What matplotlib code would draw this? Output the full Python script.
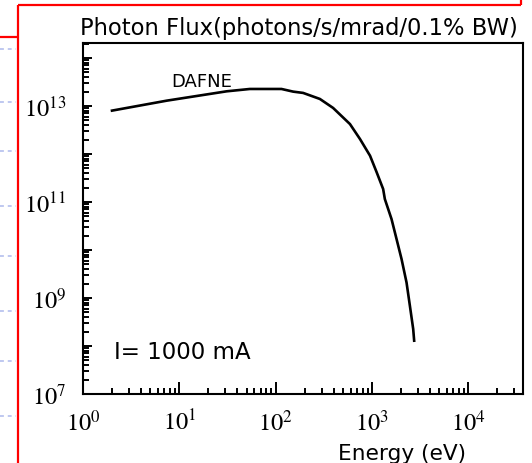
import math
import matplotlib
matplotlib.use("Agg")
import matplotlib.pyplot as plt
from matplotlib.ticker import LogLocator, FuncFormatter, NullFormatter
from matplotlib.lines import Line2D

# Data
energy_eV = [2.0, 7.4, 31, 54, 115, 152, 193, 288, 395, 591, 751, 955, 1117,
             1307, 1361, 1597, 1799, 2028, 2286, 2476, 2680, 2743]
flux = [8.0e12, 1.29e13, 2.02e13, 2.26e13, 2.26e13, 1.99e13, 1.87e13, 1.40e13,
        9.1e12, 4.2e12, 2.05e12, 9.2e11, 4.2e11, 1.86e11, 1.15e11, 4.4e10,
        1.7e10, 6.5e9, 2.1e9, 6.9e8, 2.26e8, 1.29e8]
title_text = "Photon Flux(photons/s/mrad/0.1% BW)"
xlabel_text = "Energy (eV)"
source_label = "DAFNE"
current_label = "I= 1000 mA"

plt.rcParams['mathtext.fontset'] = 'stix'
W, H = 532, 464
fig = plt.figure(figsize=(W / 100, H / 100), dpi=100)
fig.patch.set_facecolor('white')

def fx(px):
    return px / W

def fy(py):
    return 1 - py / H

# background artifacts: faint dotted lines on the left
for yy in [50, 103, 152, 207, 257, 312, 362, 417]:
    fig.add_artist(Line2D([fx(0), fx(16)], [fy(yy), fy(yy)], color='#bfc8f0',
                          lw=1.4, ls=(0, (2, 2)), transform=fig.transFigure))

# red frame
red_kw = dict(color='#ff0000', lw=1.6, transform=fig.transFigure, solid_capstyle='butt')
fig.add_artist(Line2D([fx(0), fx(18)], [fy(38), fy(38)], **red_kw))
fig.add_artist(Line2D([fx(18), fx(18)], [fy(6), fy(464)], **red_kw))
fig.add_artist(Line2D([fx(18), fx(521)], [fy(6), fy(6)], **red_kw))
fig.add_artist(Line2D([fx(521), fx(521)], [fy(0), fy(6)], **red_kw))

left, right, top, bottom = 83, 523, 43.5, 395
ax = fig.add_axes([fx(left), fy(bottom), fx(right - left), (bottom - top) / H])
ax.set_xscale('log')
ax.set_yscale('log')
ax.set_xlim(1, 3.7e4)
ax.set_ylim(1e7, 2.1e14)

ax.plot(energy_eV, flux, color='black', lw=1.9)

for s in ax.spines.values():
    s.set_linewidth(1.5)

ax.xaxis.set_major_locator(LogLocator(base=10, numticks=20))
ax.xaxis.set_minor_locator(LogLocator(base=10, subs=range(2, 10), numticks=50))
ax.yaxis.set_major_locator(LogLocator(base=10, numticks=20))
ax.yaxis.set_minor_locator(LogLocator(base=10, subs=range(2, 10), numticks=50))

def xfmt(v, pos):
    e = int(round(math.log10(v)))
    return r'$10^{%d}$' % e

def yfmt(v, pos):
    e = int(round(math.log10(v)))
    if e % 2 == 1:
        return r'$10^{%d}$' % e
    return ''

ax.xaxis.set_major_formatter(FuncFormatter(xfmt))
ax.yaxis.set_major_formatter(FuncFormatter(yfmt))
ax.xaxis.set_minor_formatter(NullFormatter())
ax.yaxis.set_minor_formatter(NullFormatter())

ax.tick_params(axis='x', which='major', direction='in', length=9, width=1.4,
               labelsize=17.5, pad=11, top=False)
ax.tick_params(axis='x', which='minor', direction='in', length=4.5, width=1.4, top=False)
ax.tick_params(axis='y', which='major', direction='in', length=6.5, width=1.4,
               labelsize=17.5, pad=12, right=False)
ax.tick_params(axis='y', which='minor', direction='in', length=4.5, width=1.4, right=False)

fig.text(fx(202), fy(81.7), source_label, ha='center', va='center', fontsize=13)
fig.text(fx(113.7), fy(352.6), current_label, ha='left', va='center', fontsize=16.5)
fig.text(fx(79.8), fy(29), title_text, ha='left', va='center', fontsize=16.3)
fig.text(fx(402), fy(454), xlabel_text, ha='center', va='center', fontsize=15.6)

fig.savefig('out.png', dpi=100, facecolor='white')
